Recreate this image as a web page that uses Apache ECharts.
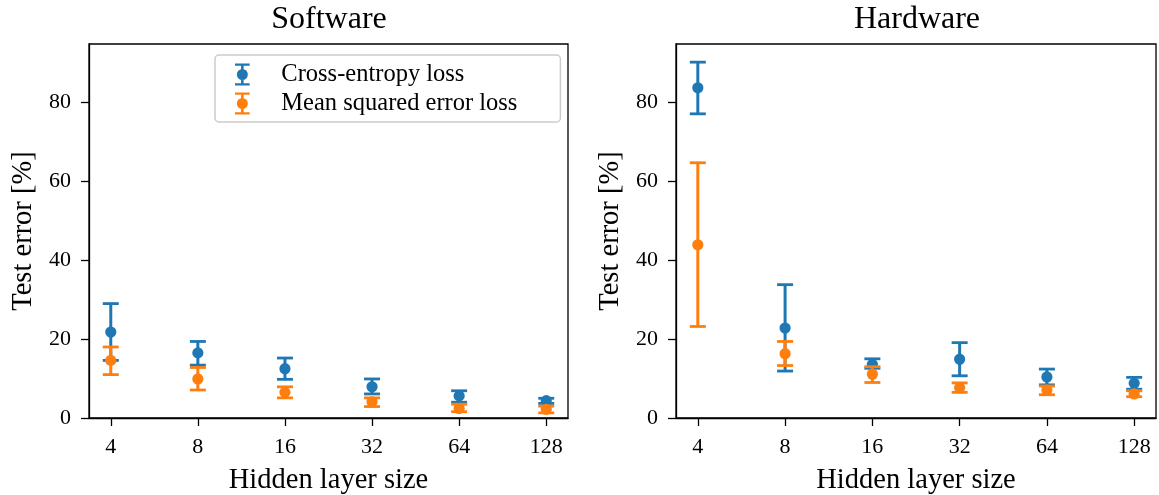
<!DOCTYPE html>
<html>
<head>
<meta charset="utf-8">
<script src="https://cdn.jsdelivr.net/npm/echarts@6/dist/echarts.min.js"></script>
<style>
html,body{margin:0;padding:0;background:#fff;}
#c{width:1159px;height:495px;}
</style>
</head>
<body>
<div id="c"></div>
<script>
// ---- data ----
const categories = ['4', '8', '16', '32', '64', '128'];
const yTicks = [0, 20, 40, 60, 80];
const panelTitles = ['Software', 'Hardware'];
const seriesNames = ['Cross-entropy loss', 'Mean squared error loss'];

const swCeMean = [21.8, 16.5, 12.5, 7.9, 5.6, 4.4];
const swCeLow  = [14.6, 13.4, 9.8, 6.1, 4.0, 3.7];
const swCeHigh = [29.0, 19.4, 15.2, 9.9, 6.9, 5.0];
const swMseMean = [14.6, 9.9, 6.5, 4.1, 2.4, 2.2];
const swMseLow  = [11.0, 7.1, 5.1, 2.9, 1.6, 1.3];
const swMseHigh = [18.0, 12.8, 7.9, 5.1, 3.5, 3.0];

const hwCeMean = [83.7, 22.8, 13.6, 14.9, 10.4, 8.8];
const hwCeLow  = [77.1, 11.9, 12.6, 10.7, 8.4, 7.3];
const hwCeHigh = [90.2, 33.8, 15.0, 19.1, 12.4, 10.3];
const hwMseMean = [43.9, 16.3, 11.1, 7.7, 7.1, 6.1];
const hwMseLow  = [23.2, 13.3, 9.0, 6.5, 5.9, 5.4];
const hwMseHigh = [64.7, 19.4, 13.0, 8.9, 8.1, 6.9];

// ---- chart ----
const FONT = '"Liberation Serif", "DejaVu Serif", serif';
const colors = ['#1f77b4', '#ff7f0e'];
const idx = categories.map((c, i) => i);

function build(mean, lo, hi) {
  return categories.map((c, i) => [i, mean[i], lo[i], hi[i]]);
}

function renderErr(params, api) {
  const x = api.value(0);
  const pm = api.coord([x, api.value(1)]);
  const pl = api.coord([x, api.value(2)]);
  const ph = api.coord([x, api.value(3)]);
  const color = api.visual('color');
  const cap = 8;
  return {
    type: 'group',
    children: [
      {type: 'line', shape: {x1: pm[0], y1: pl[1], x2: pm[0], y2: ph[1]}, style: {stroke: color, lineWidth: 3}},
      {type: 'line', shape: {x1: pm[0] - cap, y1: ph[1], x2: pm[0] + cap, y2: ph[1]}, style: {stroke: color, lineWidth: 2.8}},
      {type: 'line', shape: {x1: pm[0] - cap, y1: pl[1], x2: pm[0] + cap, y2: pl[1]}, style: {stroke: color, lineWidth: 2.8}},
      {type: 'circle', shape: {cx: pm[0], cy: pm[1], r: 5.6}, style: {fill: color}}
    ]
  };
}

function errSeries(name, k, data, color) {
  return {
    type: 'custom', name: name, xAxisIndex: k, yAxisIndex: k,
    renderItem: renderErr, data: data, clip: false,
    itemStyle: {color: color},
    encode: {x: 0, y: [1, 2, 3]}
  };
}

const grids = [
  {left: 89, top: 44, width: 479, height: 374},
  {left: 676, top: 44, width: 480, height: 374}
];

function xAxis(k) {
  return {
    type: 'value', gridIndex: k, min: -0.25, max: 5.25,
    name: 'Hidden layer size', nameLocation: 'middle', nameGap: 48,
    nameTextStyle: {fontFamily: FONT, fontSize: 28.5, color: '#000'},
    axisLine: {show: true, onZero: false, lineStyle: {color: '#000', width: 1.3}},
    axisTick: {show: true, length: 8, customValues: idx, lineStyle: {color: '#000', width: 1.3}},
    axisLabel: {customValues: idx, formatter: v => categories[Math.round(v)], fontFamily: FONT, fontSize: 22, color: '#000', margin: 18},
    splitLine: {show: false}
  };
}
function yAxis(k) {
  return {
    type: 'value', gridIndex: k, min: 0, max: 94.8,
    name: 'Test error [%]', nameLocation: 'middle', nameGap: 51, nameRotate: 90,
    nameTextStyle: {fontFamily: FONT, fontSize: 28.5, color: '#000'},
    axisLine: {show: true, onZero: false, lineStyle: {color: '#000', width: 1.3}},
    axisTick: {show: true, length: 8, customValues: yTicks, lineStyle: {color: '#000', width: 1.3}},
    axisLabel: {customValues: yTicks, fontFamily: FONT, fontSize: 22, color: '#000', margin: 18},
    splitLine: {show: false}
  };
}

const iconPath = 'path://M0 0 H16 V2.5 H0 Z M6.6 2.5 H9.4 V21.5 H6.6 Z M0 21.5 H16 V24 H0 Z M2 12 A6 6 0 1 1 14 12 A6 6 0 1 1 2 12 Z';

const option = {
  animation: false,
  backgroundColor: '#fff',
  title: [
    {text: panelTitles[0], left: 329, top: 4, textAlign: 'center', padding: 0, textStyle: {fontFamily: FONT, fontSize: 32, fontWeight: 'normal', color: '#000'}},
    {text: panelTitles[1], left: 917, top: 4, textAlign: 'center', padding: 0, textStyle: {fontFamily: FONT, fontSize: 32, fontWeight: 'normal', color: '#000'}}
  ],
  legend: {
    data: seriesNames,
    orient: 'vertical', left: 215, top: 55,
    icon: iconPath, itemWidth: 16, itemHeight: 22, itemGap: 4,
    padding: [7, 43, 6, 20],
    backgroundColor: '#fff', borderColor: '#cccccc', borderWidth: 1.5, borderRadius: 4,
    textStyle: {fontFamily: FONT, fontSize: 24.5, color: '#000', padding: [0, 0, 0, 26]}
  },
  grid: grids.map(g => Object.assign({show: true, containLabel: false, outerBoundsMode: 'none', borderColor: '#000', borderWidth: 1.3, backgroundColor: 'transparent'}, g)),
  xAxis: [xAxis(0), xAxis(1)],
  yAxis: [yAxis(0), yAxis(1)],
  series: [
    errSeries(seriesNames[0], 0, build(swCeMean, swCeLow, swCeHigh), colors[0]),
    errSeries(seriesNames[1], 0, build(swMseMean, swMseLow, swMseHigh), colors[1]),
    errSeries(seriesNames[0], 1, build(hwCeMean, hwCeLow, hwCeHigh), colors[0]),
    errSeries(seriesNames[1], 1, build(hwMseMean, hwMseLow, hwMseHigh), colors[1])
  ]
};

const chart = echarts.init(document.getElementById('c'), null, {renderer: 'canvas'});
chart.setOption(option);
</script>
</body>
</html>
